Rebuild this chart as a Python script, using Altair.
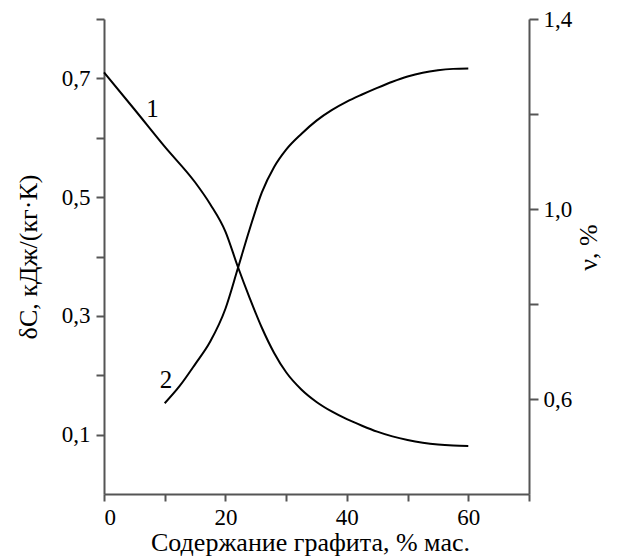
import altair as alt
import pandas as pd

# Curve 1: heat capacity change δC (left axis)
x1 = [0, 5, 10, 15, 17.5, 20, 22, 24, 26, 28, 30, 32.5, 35, 37.5, 40, 42.5, 45, 47.5,
      50, 52.5, 55, 57.5, 60]
dc = [0.71, 0.648, 0.585, 0.525, 0.488, 0.442, 0.384, 0.33, 0.28, 0.238, 0.205,
      0.176, 0.155, 0.139, 0.126, 0.115, 0.105, 0.097, 0.091, 0.0865, 0.0835, 0.0818, 0.081]

# Curve 2: ν, % (right axis)
x2 = [10, 12.5, 15, 17.5, 20, 22, 24, 26, 28, 30, 32.5, 35, 37.5, 40, 42.5, 45, 47.5,
      50, 52.5, 55, 57.5, 60]
nu = [0.591, 0.628, 0.673, 0.721, 0.79, 0.873, 0.958, 1.035, 1.088, 1.125, 1.158,
      1.186, 1.208, 1.226, 1.241, 1.255, 1.268, 1.279, 1.287, 1.292, 1.295, 1.296]

# Curve labels (in left-axis coordinates)
lab_text = ["1", "2"]
lab_x = [8.0, 10.2]
lab_y = [0.649, 0.192]

x_ticks = [0, 10, 20, 30, 40, 50, 60, 70]
left_ticks = [0.1, 0.2, 0.3, 0.4, 0.5, 0.6, 0.7, 0.8]
right_ticks = [0.6, 0.8, 1.0, 1.2, 1.4]

FONT = "Liberation Serif"
AXC = "#555555"

df1 = pd.DataFrame({"x": x1, "dc": dc})
df2 = pd.DataFrame({"x": x2, "nu": nu})
dfl = pd.DataFrame({"x": lab_x, "dc": lab_y, "t": lab_text})

xenc = alt.X(
    "x:Q",
    scale=alt.Scale(domain=[0, 70], nice=False),
    axis=alt.Axis(
        values=x_ticks,
        labelExpr="datum.value % 20 == 0 ? datum.label : ''",
        title="Содержание графита, % мас.",
        tickSize=7,
        labelPadding=5,
        titlePadding=0,
        titleX=206,
    ),
)

yleft_scale = alt.Scale(domain=[0, 0.8], nice=False, zero=False)

line1 = alt.Chart(df1).mark_line(color="black", strokeWidth=2, interpolate="monotone").encode(
    x=xenc,
    y=alt.Y(
        "dc:Q",
        scale=yleft_scale,
        axis=alt.Axis(
            values=left_ticks,
            labelExpr="round(datum.value*10) % 2 == 1 ? replace(format(datum.value, '.1f'), '.', ',') : ''",
            title="δC, кДж/(кг·К)",
            tickSize=8,
            labelPadding=6,
            titlePadding=20,
        ),
    ),
)

labels = alt.Chart(dfl).mark_text(font=FONT, fontSize=25, color="black").encode(
    x=alt.X("x:Q"),
    y=alt.Y("dc:Q"),
    text="t:N",
)

line2 = alt.Chart(df2).mark_line(color="black", strokeWidth=2, interpolate="monotone").encode(
    x=alt.X("x:Q"),
    y=alt.Y(
        "nu:Q",
        scale=alt.Scale(domain=[0.4, 1.4], nice=False, zero=False),
        axis=alt.Axis(
            orient="right",
            values=right_ticks,
            labelExpr="round(datum.value*10) % 4 == 2 ? replace(format(datum.value, '.1f'), '.', ',') : ''",
            title="ν, %",
            titleAngle=270,
            titleY=228,
            tickSize=9,
            labelPadding=5,
            titlePadding=30,
        ),
    ),
)

chart = (
    alt.layer(alt.layer(line1, labels), line2)
    .resolve_scale(y="independent")
    .properties(
        width=425,
        height=475,
        autosize=alt.AutoSizeParams(type="none"),
        padding={"left": 96, "top": 11, "right": 80, "bottom": 62},
    )
    .configure_view(stroke=None)
    .configure_axis(
        grid=False,
        domainColor=AXC,
        tickColor=AXC,
        domainWidth=2,
        tickWidth=2,
        labelFont=FONT,
        labelFontSize=23,
        labelColor="black",
        titleFont=FONT,
        titleFontSize=26,
        titleFontWeight="normal",
        titleColor="black",
    )
)

chart.save("out.html", embed_options={"renderer": "svg", "actions": False})
